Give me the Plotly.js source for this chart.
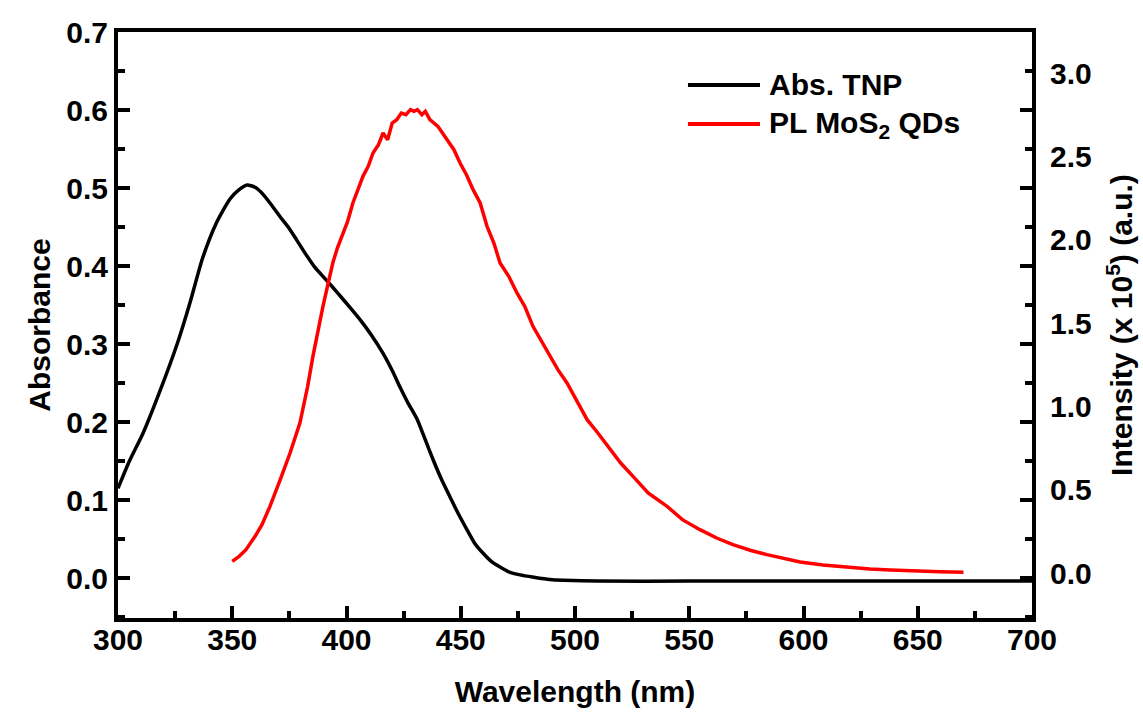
<!DOCTYPE html>
<html>
<head>
<meta charset="utf-8">
<script src="https://cdn.plot.ly/plotly-3.0.1.min.js"></script>
<style>html,body{margin:0;padding:0;background:#fff;}</style>
</head>
<body>
<div id="chart" style="width:1143px;height:727px;"></div>
<script>
// Absorbance of TNP (left axis)
const absWavelength = [300, 305, 311, 318, 326, 331.5, 337, 343, 349, 353, 356.5, 360, 363.5, 367, 371, 375, 378.3, 382, 386, 391.5, 396, 401.5, 406, 411, 416, 420, 423.4, 427, 431, 434.5, 438, 441.5, 445.3, 449, 452.7, 456, 459.7, 463.5, 467.2, 471, 476, 482, 489, 495, 510, 550, 600, 650, 700];
const absValues     = [0.115, 0.150, 0.186, 0.237, 0.301, 0.353, 0.410, 0.455, 0.486, 0.498, 0.504, 0.501, 0.492, 0.479, 0.463, 0.448, 0.433, 0.416, 0.399, 0.381, 0.366, 0.347, 0.331, 0.311, 0.288, 0.266, 0.245, 0.224, 0.203, 0.177, 0.151, 0.127, 0.104, 0.082, 0.062, 0.045, 0.032, 0.021, 0.014, 0.008, 0.004, 0.001, -0.002, -0.003, -0.004, -0.004, -0.004, -0.004, -0.004];

// PL of MoS2 QDs (right axis, x 10^5)
const plWavelength = [350, 353, 356, 360, 363, 366.5, 371, 375.3, 379.6, 383, 385.3, 387.5, 389.7, 392, 394, 396, 398.5, 400.5, 402.8, 405, 407.2, 409.5, 411.6, 414, 416, 418, 420, 422, 424, 426, 428, 429.5, 431, 433, 434.5, 436.5, 438, 440, 442, 444, 447, 449.7, 452.5, 455.4, 458.5, 461.5, 464.5, 467.2, 471, 474.6, 478, 481.6, 485, 489, 492.5, 496.5, 501, 505.3, 510, 515.3, 520, 525.4, 532, 540.3, 547, 554.7, 562, 569.1, 577, 584, 590, 598.5, 608.5, 618, 629, 638, 648, 660, 670];
const plValues     = [0.07, 0.10, 0.14, 0.22, 0.29, 0.40, 0.56, 0.72, 0.90, 1.12, 1.30, 1.46, 1.60, 1.74, 1.86, 1.95, 2.04, 2.11, 2.22, 2.30, 2.38, 2.44, 2.52, 2.57, 2.64, 2.60, 2.70, 2.72, 2.76, 2.75, 2.78, 2.77, 2.78, 2.75, 2.77, 2.72, 2.70, 2.68, 2.64, 2.60, 2.54, 2.46, 2.39, 2.30, 2.22, 2.08, 1.98, 1.86, 1.78, 1.68, 1.60, 1.48, 1.40, 1.30, 1.22, 1.14, 1.03, 0.92, 0.84, 0.74, 0.66, 0.58, 0.48, 0.40, 0.32, 0.26, 0.21, 0.17, 0.135, 0.11, 0.09, 0.066, 0.048, 0.035, 0.024, 0.018, 0.012, 0.008, 0.005];

const seriesNames = ['Abs. TNP', 'PL MoS<sub>2</sub> QDs'];
const seriesColors = ['#000000', '#ff0000'];
const xTitle = 'Wavelength (nm)';
const yTitle = 'Absorbance';
const y2Title = 'Intensity (x 10<sup>5</sup>) (a.u.)';

const FONT = 'Liberation Sans, Arial, sans-serif';
const TICKFONT = {family: FONT, size: 30, color: '#000', weight: 'bold'};
const TITLEFONT = {family: FONT, size: 30, color: '#000', weight: 'bold'};

const traces = [
  {x: absWavelength, y: absValues, name: seriesNames[0], type: 'scatter', mode: 'lines',
   line: {color: seriesColors[0], width: 3.5, shape: 'spline', smoothing: 0.6}, yaxis: 'y'},
  {x: plWavelength, y: plValues, name: seriesNames[1], type: 'scatter', mode: 'lines',
   line: {color: seriesColors[1], width: 3.5}, yaxis: 'y2'}
];

// Legend drawn as sample lines + labels in paper coordinates
const legendRowsY = [0.9096, 0.843];
const legendShapes = seriesNames.map((n, i) => ({
  type: 'line', xref: 'paper', yref: 'paper',
  x0: 0.6236, x1: 0.7024, y0: legendRowsY[i], y1: legendRowsY[i],
  line: {color: seriesColors[i], width: 4}
}));
const legendAnnotations = seriesNames.map((n, i) => ({
  xref: 'paper', yref: 'paper', x: 0.7100, y: legendRowsY[i],
  xanchor: 'left', yanchor: 'middle', text: n, showarrow: false,
  font: {family: FONT, size: 30, color: '#000', weight: 'bold'}
}));

const layout = {
  width: 1143, height: 727,
  margin: {l: 118, r: 111, t: 32, b: 109, pad: 0},
  paper_bgcolor: '#ffffff', plot_bgcolor: '#ffffff',
  font: {family: FONT, color: '#000000', size: 30, weight: 'bold'},
  showlegend: false,
  shapes: legendShapes,
  annotations: legendAnnotations,
  xaxis: {
    range: [300, 700], dtick: 50, tick0: 300,
    ticks: 'inside', ticklen: 12, tickwidth: 4, tickcolor: '#000',
    minor: {dtick: 25, ticks: 'inside', ticklen: 7, tickwidth: 4, tickcolor: '#000'},
    showline: true, linewidth: 4, linecolor: '#000', mirror: true,
    showgrid: false, zeroline: false, automargin: false,
    tickfont: TICKFONT, ticklabelstandoff: -8,
    title: {text: xTitle, font: TITLEFONT, standoff: 27}
  },
  yaxis: {
    range: [-0.0513, 0.7002], dtick: 0.1, tick0: 0, tickformat: '.1f',
    ticks: 'inside', ticklen: 12, tickwidth: 4, tickcolor: '#000',
    minor: {dtick: 0.05, ticks: 'inside', ticklen: 7, tickwidth: 4, tickcolor: '#000'},
    showline: true, linewidth: 4, linecolor: '#000', mirror: 'allticks',
    showgrid: false, zeroline: false, automargin: false,
    tickfont: TICKFONT,
    title: {text: yTitle, font: TITLEFONT, standoff: 8}
  },
  yaxis2: {
    overlaying: 'y', side: 'right',
    range: [-0.27, 3.246], dtick: 0.5, tick0: 0, tickformat: '.1f',
    ticks: '', showline: false, showgrid: false, zeroline: false, automargin: false,
    tickfont: TICKFONT,
    ticklabelstandoff: 17,
    title: {text: y2Title, font: TITLEFONT, standoff: 20}
  }
};

Plotly.newPlot('chart', traces, layout, {displayModeBar: false, staticPlot: true});
</script>
</body>
</html>
